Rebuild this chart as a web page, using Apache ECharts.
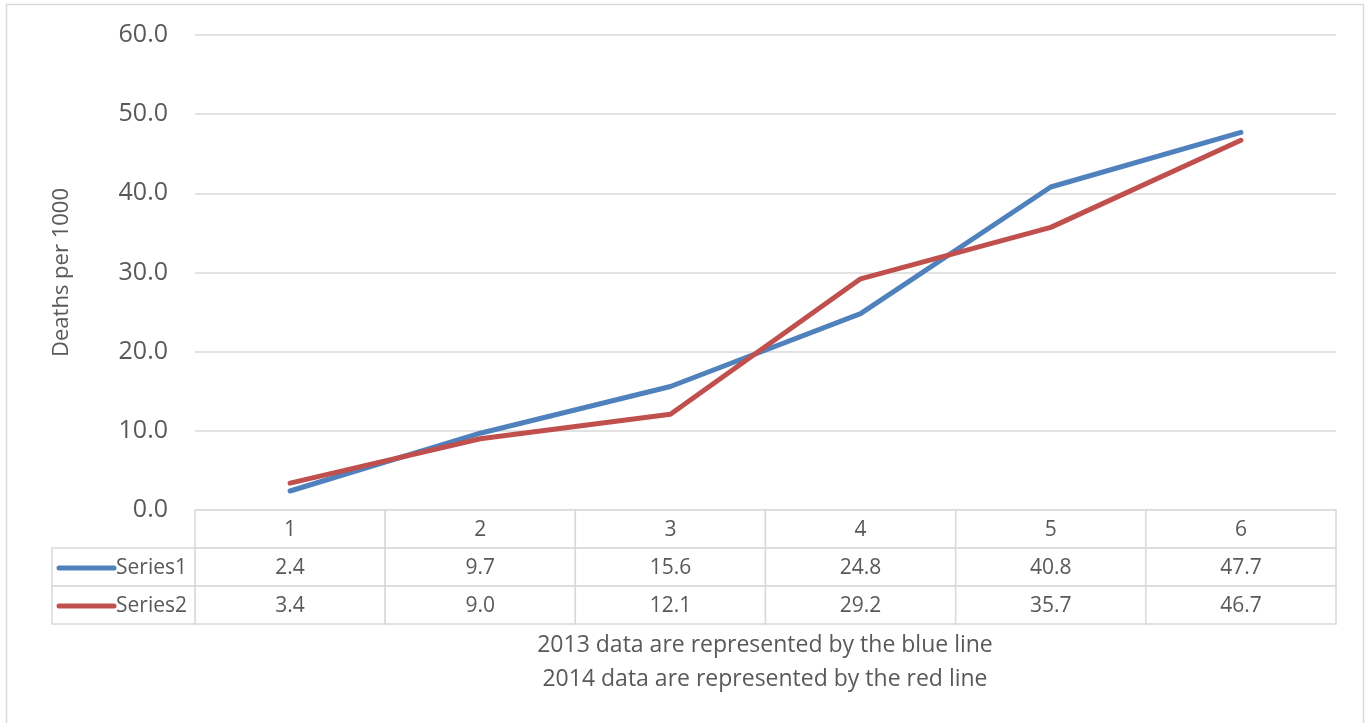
<!DOCTYPE html>
<html>
<head>
<meta charset="utf-8">
<script src="https://cdn.jsdelivr.net/npm/echarts@6/dist/echarts.min.js"></script>
<style>
  html, body { margin: 0; padding: 0; background: #fff; }
  #chart { width: 1370px; height: 723px; }
</style>
</head>
<body>
<div id="chart"></div>
<script>
// Categories (age group index) and the two yearly series
const categories = ['1', '2', '3', '4', '5', '6'];
const seriesNames = ['Series1', 'Series2'];
const series1 = [2.4, 9.7, 15.6, 24.8, 40.8, 47.7];
const series2 = [3.4, 9.0, 12.1, 29.2, 35.7, 46.7];
const yTicks = [0, 10, 20, 30, 40, 50, 60];
const colors = ['#4f81bd', '#c0504d'];

const FONT = '"Open Sans", "Noto Sans", sans-serif';
const TEXT = '#595959';
const LINE = '#d9d9d9';

// Rows of the data table under the plot: header row of categories, then one row per series
const tableRows = [categories, series1.map(v => v.toFixed(1)), series2.map(v => v.toFixed(1))];
const tableData = [];
tableRows.forEach((row, r) => row.forEach((txt, c) => tableData.push([c, r, txt])));

const chart = echarts.init(document.getElementById('chart'), null, { renderer: 'canvas' });

chart.setOption({
  animation: false,
  backgroundColor: '#fff',
  textStyle: { fontFamily: FONT },
  graphic: [
    { type: 'rect', shape: { x: 6.5, y: 4.5, width: 1357, height: 760 },
      style: { fill: 'none', stroke: LINE, lineWidth: 1.5 }, silent: true, z: -10 },
    { type: 'text', x: 765, y: 628,
      style: { text: '2013 data are represented by the blue line\n2014 data are represented by the red line',
               fill: TEXT, font: '23px ' + FONT, align: 'center', verticalAlign: 'top', lineHeight: 34 } }
  ],
  grid: [
    { left: 195, right: 34, top: 35, bottom: 213 },          // plot
    { left: 195, right: 34, top: 510, bottom: 99 },          // table values
    { left: 52, width: 143, top: 548, bottom: 99 }           // series key column
  ],
  xAxis: [
    { gridIndex: 0, type: 'category', data: categories, boundaryGap: true,
      axisLine: { show: false }, axisTick: { show: false }, axisLabel: { show: false } },
    { gridIndex: 1, type: 'category', data: categories, boundaryGap: true, show: false },
    { gridIndex: 2, type: 'category', data: ['key'], boundaryGap: true, show: false }
  ],
  yAxis: [
    { gridIndex: 0, type: 'value', min: yTicks[0], max: yTicks[yTicks.length - 1], interval: 10,
      name: 'Deaths per 1000', nameLocation: 'middle', nameGap: 122, nameRotate: 90,
      nameTextStyle: { color: TEXT, fontSize: 22, fontFamily: FONT },
      axisLine: { show: false }, axisTick: { show: false },
      axisLabel: { color: TEXT, fontSize: 25, fontFamily: FONT, margin: 27,
                   formatter: v => v.toFixed(1) },
      splitLine: { lineStyle: { color: LINE, width: 1.5 } } },
    { gridIndex: 1, type: 'category', data: ['0', '1', '2'], inverse: true, boundaryGap: true, show: false },
    { gridIndex: 2, type: 'category', data: seriesNames, inverse: true, boundaryGap: true, show: false }
  ],
  series: [
    { name: seriesNames[0], type: 'line', data: series1, xAxisIndex: 0, yAxisIndex: 0,
      symbol: 'none', lineStyle: { color: colors[0], width: 5, cap: 'round', join: 'round' }, z: 3 },
    { name: seriesNames[1], type: 'line', data: series2, xAxisIndex: 0, yAxisIndex: 0,
      symbol: 'none', lineStyle: { color: colors[1], width: 5, cap: 'round', join: 'round' }, z: 4 },
    // data table cells: bordered box with the value centred in it
    { type: 'custom', xAxisIndex: 1, yAxisIndex: 1, data: tableData,
      renderItem: function (params, api) {
        const center = api.coord([api.value(0), api.value(1)]);
        const size = api.size([1, 1]);
        return { type: 'group', children: [
          { type: 'rect',
            shape: { x: center[0] - size[0] / 2, y: center[1] - size[1] / 2, width: size[0], height: size[1] },
            style: { fill: '#fff', stroke: LINE, lineWidth: 1.5 } },
          { type: 'text',
            style: { x: center[0], y: center[1] + 1, text: tableData[params.dataIndex][2],
                     align: 'center', verticalAlign: 'middle', fill: TEXT, font: '21px ' + FONT } }
        ] };
      } },
    // series key column: coloured line sample plus series name
    { type: 'custom', xAxisIndex: 2, yAxisIndex: 2, data: seriesNames.map((n, i) => [0, i]),
      renderItem: function (params, api) {
        const i = params.dataIndex;
        const center = api.coord([0, i]);
        const size = api.size([1, 1]);
        const x = center[0] - size[0] / 2, y = center[1] - size[1] / 2;
        return { type: 'group', children: [
          { type: 'rect', shape: { x: x, y: y, width: size[0], height: size[1] },
            style: { fill: '#fff', stroke: LINE, lineWidth: 1.5 } },
          { type: 'line', shape: { x1: x + 7, y1: center[1] + 1, x2: x + 62, y2: center[1] + 1 },
            style: { stroke: colors[i], lineWidth: 5, lineCap: 'round' } },
          { type: 'text', style: { x: x + 64, y: center[1] + 1, text: seriesNames[i],
            align: 'left', verticalAlign: 'middle', fill: TEXT, font: '21px ' + FONT } }
        ] };
      } }
  ]
});
</script>
</body>
</html>
